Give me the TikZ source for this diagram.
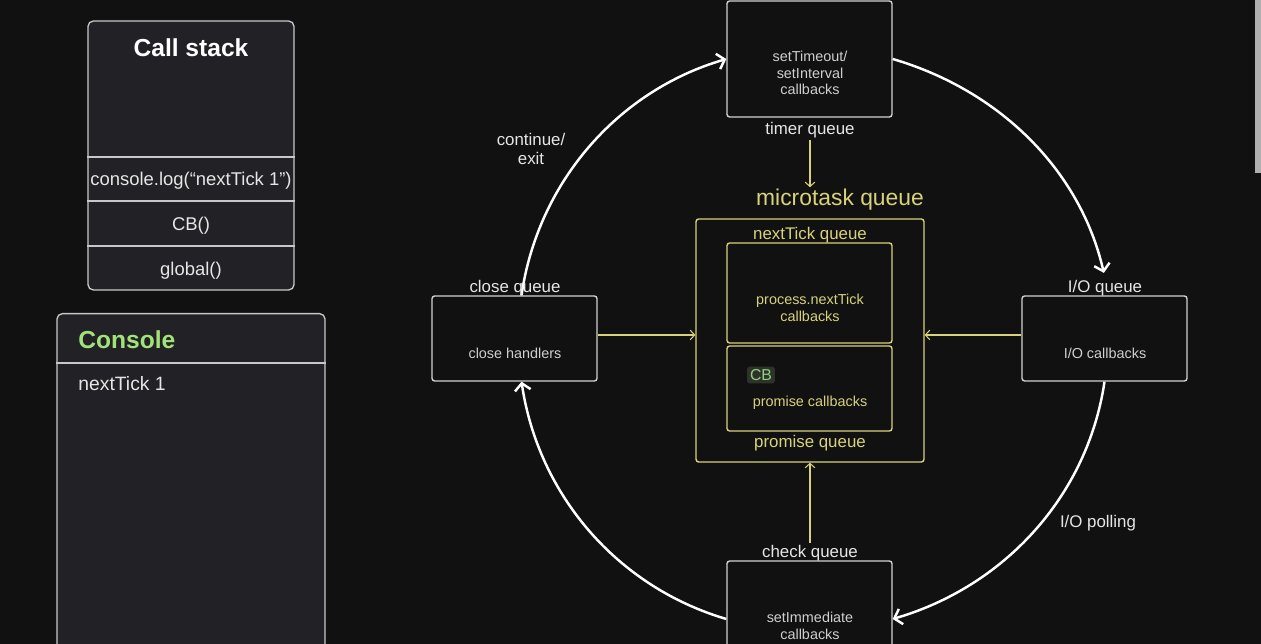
\documentclass[tikz,border=0pt]{standalone}
\usepackage{fontspec}
\setmainfont{Liberation Sans}
\usetikzlibrary{arrows.meta}

\definecolor{bg}{HTML}{111111}
\definecolor{panelfill}{HTML}{222226}
\definecolor{panelline}{HTML}{C8C8C8}
\definecolor{boxline}{HTML}{D2D2D2}
\definecolor{boxtxt}{HTML}{CFCFCF}
\definecolor{labeltxt}{HTML}{E6E6E6}
\definecolor{ylw}{HTML}{D9D27A}
\definecolor{grn}{HTML}{A3E27A}
\definecolor{cbfill}{HTML}{2C3329}
\definecolor{cbtxt}{HTML}{93CF84}
\definecolor{scroll}{HTML}{B0B0B0}

\begin{document}
\begin{tikzpicture}[x=0.02cm, y=0.02cm,
  box/.style={draw=boxline, line width=0.8pt, rounded corners=1.5pt, fill=bg,
    minimum width=3.3cm, minimum height=1.7cm, inner sep=0pt},
  ybox/.style={draw=ylw, line width=0.8pt, rounded corners=1.5pt,
    minimum width=3.3cm, minimum height=1.7cm, inner sep=0pt},
  boxtext/.style={text=boxtxt, font=\fontsize{8.2}{9.4}\selectfont, align=center},
  ytext/.style={text=ylw, font=\fontsize{8.2}{9.4}\selectfont, align=center},
  qlabel/.style={text=labeltxt, font=\fontsize{9.6}{11.3}\selectfont, align=center, inner sep=1pt},
  panel/.style={draw=panelline, line width=0.75pt, rounded corners=3pt, fill=panelfill, inner sep=0pt},
  rowtext/.style={text=labeltxt, font=\fontsize{10.5}{12}\selectfont},
  loop/.style={draw=white, line width=1.4pt, -{Straight Barb[length=4pt,width=9pt]}},
  feed/.style={draw=ylw, line width=0.6pt, -{Straight Barb[length=2.5pt,width=5.5pt]}}]

\useasboundingbox (0,0) rectangle (1261,-644);
\fill[bg] (0,0) rectangle (1261,-644);
\clip (0,0) rectangle (1261,-644);

% call stack
\node[panel, minimum width=4.12cm, minimum height=5.38cm] (stack) at (191,-155.5) {};
\node[text=white, font=\bfseries\fontsize{14}{16}\selectfont] (stacktitle) at (191,-48) {Call stack};
\foreach \y in {157,201,246}
	\draw[panelline, line width=0.75pt] (stack.west |- 0,-\y) -- (stack.east |- 0,-\y);
\foreach \t/\y/\n in {console.log(“nextTick 1”)/181/row1, CB()/226/row2, global()/271/row3}
	\node[rowtext] (\n) at (191,-\y) {\t};

% console
\node[panel, minimum width=5.36cm, minimum height=7.6cm, anchor=north] (console) at (191,-313) {};
\draw[panelline, line width=0.75pt] (console.west |- 0,-363) -- (console.east |- 0,-363);
\node[anchor=west, inner sep=0pt, text=grn, font=\bfseries\fontsize{14}{16}\selectfont] (contitle) at (78,-340) {Console};
\node[anchor=west, inner sep=0pt, text=labeltxt, font=\fontsize{11}{13}\selectfont] (conline) at (78,-384) {nextTick 1};

% event loop phases
\node[box, minimum height=2.32cm] (timer) at (809.5,-59) {};
\node[boxtext] (timertxt) at (810,-73) {setTimeout/\\setInterval\\callbacks};
\node[box] (close) at (514.5,-338.5) {};
\node[boxtext] (closetxt) at (515,-353) {close handlers};
\node[box] (io) at (1104.5,-338.5) {};
\node[boxtext] (iotxt) at (1105,-353) {I/O callbacks};
\node[box, minimum height=2.32cm] (check) at (809.5,-619) {};
\node[boxtext] (checktxt) at (810,-626) {setImmediate\\callbacks};

\node[qlabel] (tq) at (810,-130) {timer queue};
\node[qlabel] (iq) at (1105,-288) {I/O queue};
\node[qlabel] (kq) at (810,-553) {check queue};
\node[qlabel] (cont) at (531,-149) {continue/\\exit};
\node[qlabel] (poll) at (1098,-523) {I/O polling};

\draw[loop] ([xshift=4]close.north) to[out=81.8, in=196.3, looseness=0.93] (timer.west);
\draw[loop, shorten >=3pt] (timer.east) to[out=-16.3, in=102.9, looseness=0.93] (iq.north);
\draw[loop] (io.south) to[out=-98.4, in=16.2, looseness=0.93] (check.east);
\draw[loop] (check.west) to[out=163.6, in=-81.6, looseness=0.93] ([xshift=4]close.south);
\node[qlabel] (cq) at (515,-288) {close queue};

% microtask queue
\node[text=ylw, font=\fontsize{13}{15}\selectfont, inner sep=1pt] (mq) at (840,-200) {microtask queue};
\node[draw=ylw, line width=0.8pt, rounded corners=1.5pt, minimum width=4.56cm, minimum height=4.86cm] (micro) at (810,-340.5) {};
\node[ybox, minimum height=2cm] (ntq) at (809.5,-293) {};
\node[ybox] (prq) at (809.5,-388.5) {};
\node[ytext, font=\fontsize{9.6}{11}\selectfont] (ntqlabel) at (810,-235) {nextTick queue};
\node[ytext] (ntqtxt) at (810,-308) {process.nextTick\\callbacks};
\node[fill=cbfill, text=cbtxt, font=\fontsize{9}{10}\selectfont, inner sep=1.6pt, rounded corners=1pt] (cb) at (761,-375) {CB};
\node[ytext] (prqtxt) at (810,-403) {promise callbacks};
\node[ytext, font=\fontsize{9.6}{11}\selectfont] (prqlabel) at (810,-443) {promise queue};

\draw[feed] (tq.south) -- (tq.south |- mq.north);
\draw[feed] ([yshift=2]close.east) -- ([yshift=2]close.east -| micro.west);
\draw[feed] ([yshift=2]io.west) -- ([yshift=2]io.west -| micro.east);
\draw[feed] (kq.north) -- (micro.south);

% scroll bar
\fill[scroll] (1255,0) rectangle (1261,-173);

\end{tikzpicture}
\end{document}
